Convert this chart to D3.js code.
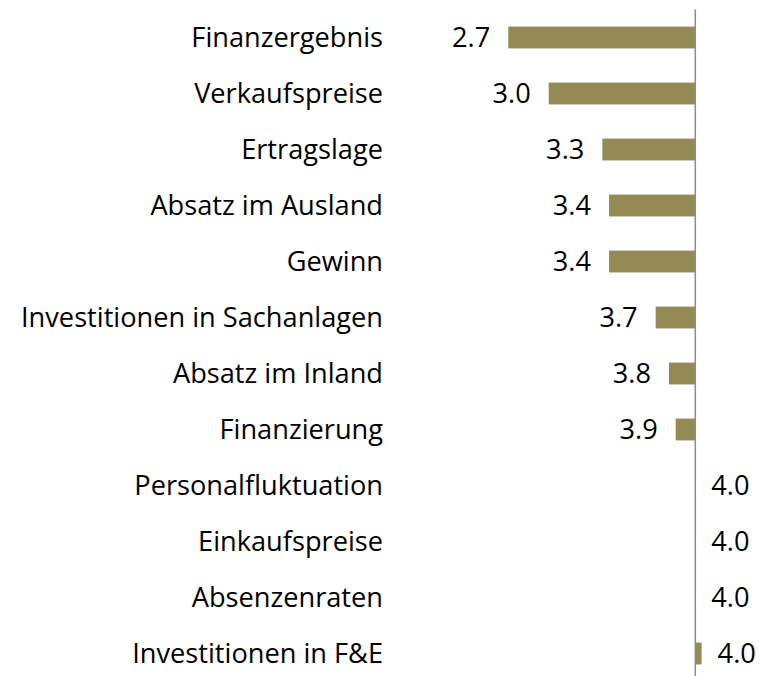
<!DOCTYPE html>
<html>
<head>
<meta charset="utf-8">
<script src="https://cdn.jsdelivr.net/npm/d3@7"></script>
<style>
  body { margin: 0; background: #fff; }
  svg { display: block; }
</style>
</head>
<body>
<svg></svg>
<script>
const categories = ['Finanzergebnis', 'Verkaufspreise', 'Ertragslage', 'Absatz im Ausland', 'Gewinn',
    'Investitionen in Sachanlagen', 'Absatz im Inland', 'Finanzierung', 'Personalfluktuation',
    'Einkaufspreise', 'Absenzenraten', 'Investitionen in F&E'];
const values = [2.664, 2.953, 3.336, 3.384, 3.384, 3.717, 3.812, 3.86, 4.0, 4.0, 4.0, 4.045];
const baseValue = 4.0;

const width = 761;
const height = 676;

const svg = d3.select('svg')
    .attr('width', width)
    .attr('height', height);

const x = d3.scaleLinear()
    .domain([2.5, 4.5])
    .range([485.3, 765.3]);

const y = d3.scaleBand()
    .domain(categories)
    .range([9.5, 681.5])
    .paddingInner(0.61)
    .paddingOuter(0.305);

const font = "'Open Sans', sans-serif";
const fontSize = '27.2px';

// bars grow from the 4.0 baseline
svg.selectAll('rect.bar')
    .data(values)
    .enter()
    .append('rect')
    .attr('class', 'bar')
    .attr('x', d => x(Math.min(d, baseValue)))
    .attr('y', (d, i) => y(categories[i]))
    .attr('width', d => Math.abs(x(d) - x(baseValue)))
    .attr('height', y.bandwidth())
    .attr('fill', '#948A54');

// baseline
svg.append('line')
    .attr('x1', x(baseValue))
    .attr('x2', x(baseValue))
    .attr('y1', y.range()[0])
    .attr('y2', y.range()[1])
    .attr('stroke', '#8c8c8c')
    .attr('stroke-width', 1.5);

// category labels
svg.selectAll('text.cat')
    .data(categories)
    .enter()
    .append('text')
    .attr('class', 'cat')
    .attr('x', 383)
    .attr('y', d => y(d) + y.bandwidth() / 2)
    .attr('dy', '0.35em')
    .attr('text-anchor', 'end')
    .style('font-family', font)
    .style('font-size', fontSize)
    .attr('fill', '#000')
    .text(d => d);

// value labels
svg.selectAll('text.val')
    .data(values)
    .enter()
    .append('text')
    .attr('class', 'val')
    .attr('x', d => d < baseValue ? x(d) - 18 : x(d) + 16)
    .attr('y', (d, i) => y(categories[i]) + y.bandwidth() / 2)
    .attr('dy', '0.35em')
    .attr('text-anchor', d => d < baseValue ? 'end' : 'start')
    .style('font-family', font)
    .style('font-size', fontSize)
    .attr('fill', '#000')
    .text(d => d.toFixed(1));
</script>
</body>
</html>
